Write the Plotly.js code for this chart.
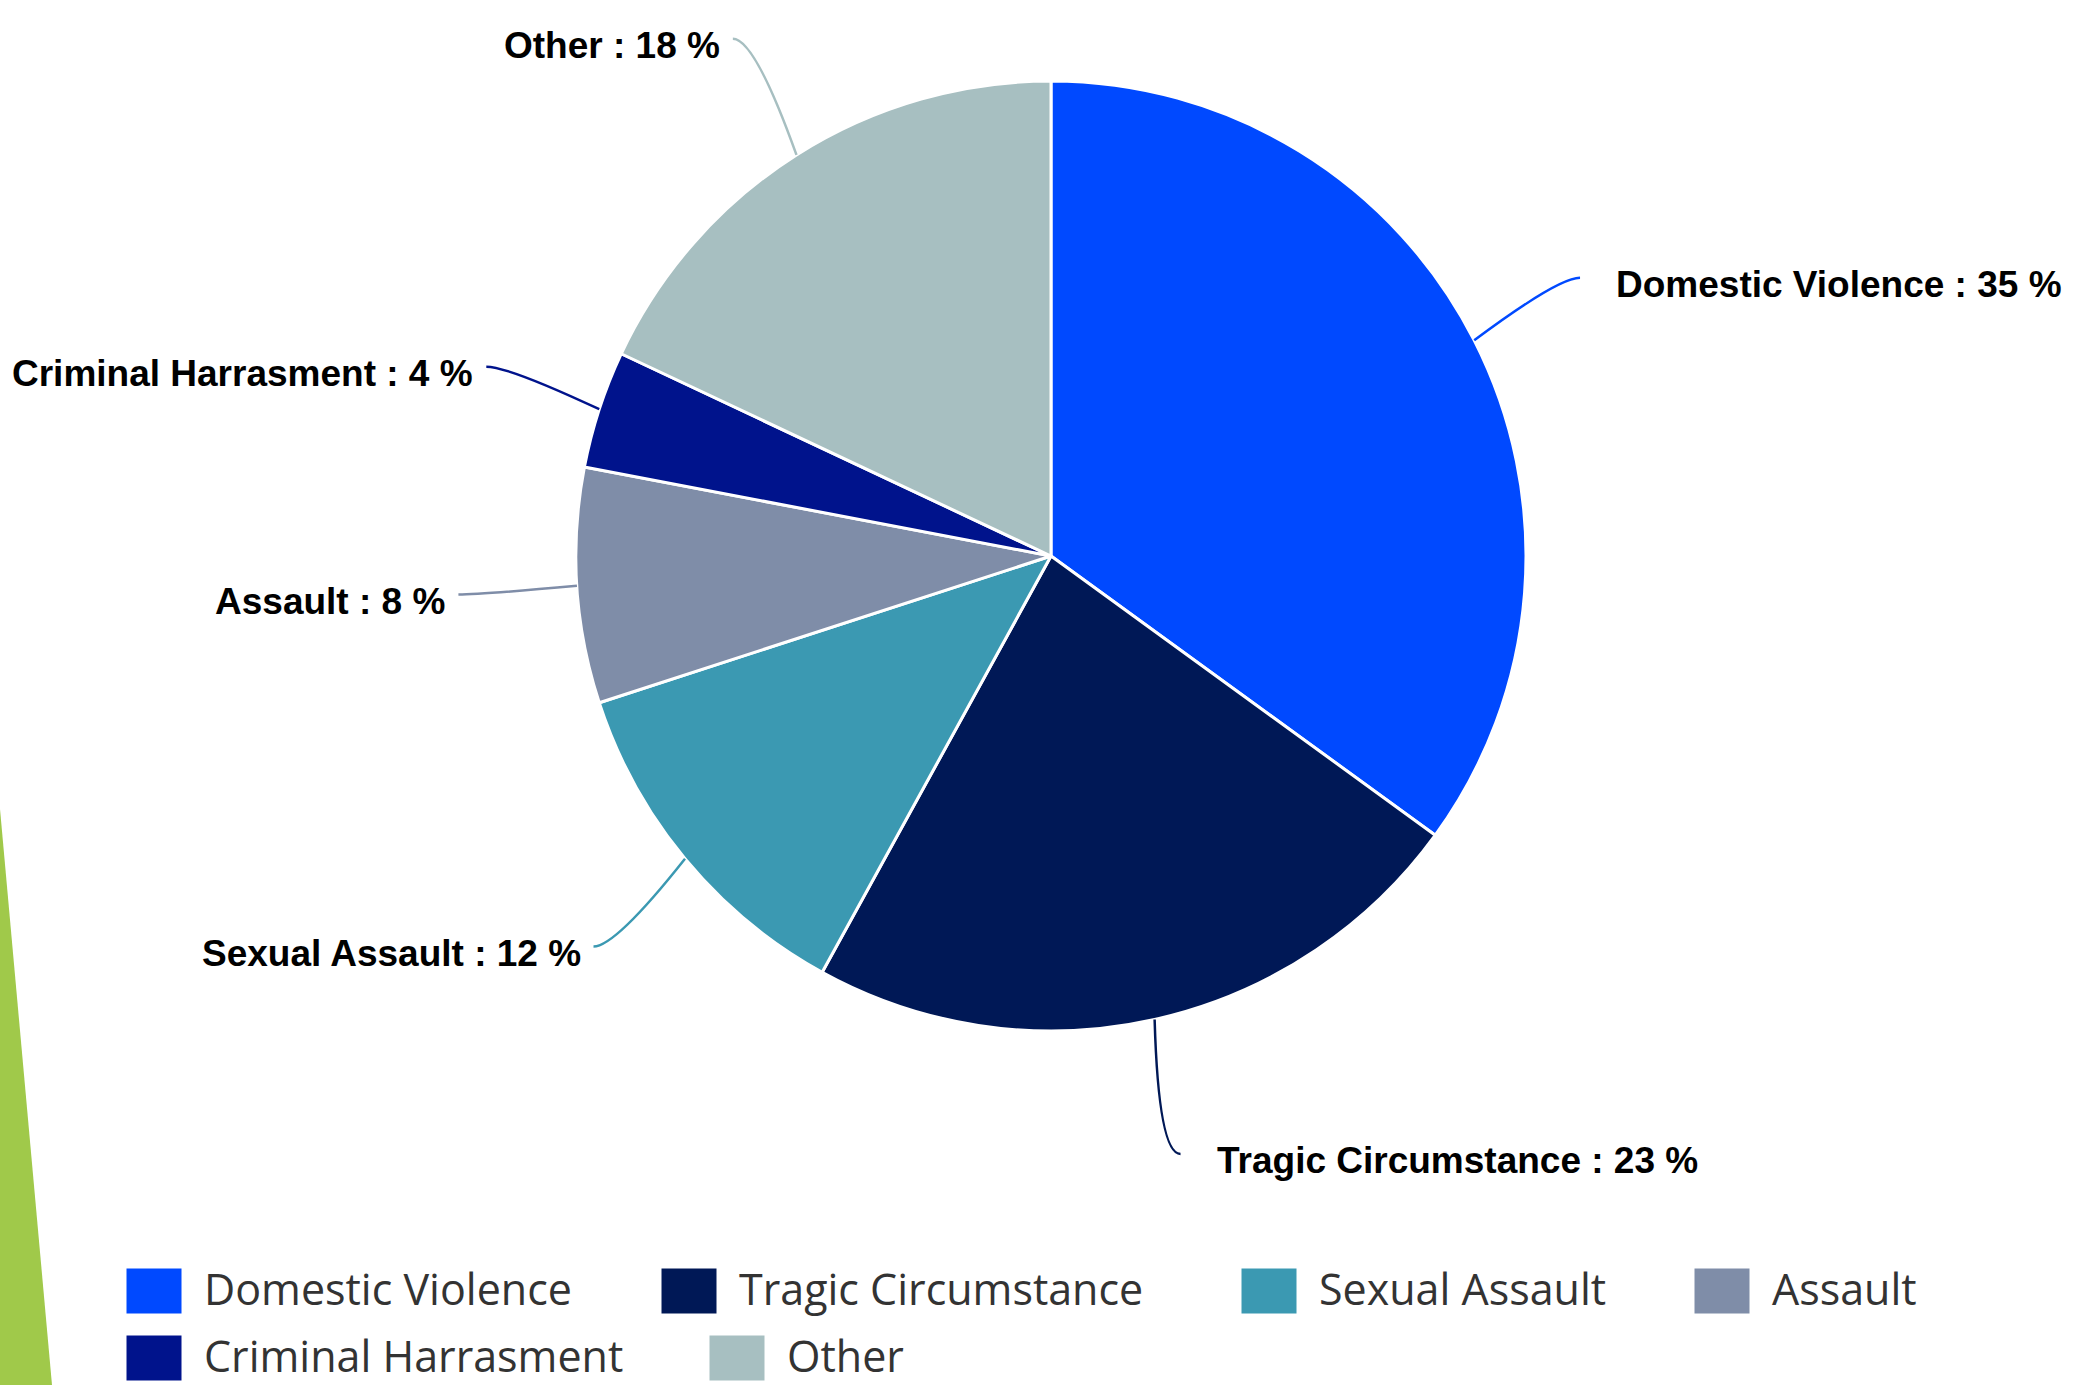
<!DOCTYPE html>
<html>
<head>
<meta charset="utf-8">
<script src="https://cdn.plot.ly/plotly-3.0.1.min.js"></script>
<style>html,body{margin:0;padding:0;background:#fff;}#chart{width:2086px;height:1385px;}</style>
</head>
<body>
<div id="chart"></div>
<script>
// ---- data ----
const categories = ['Domestic Violence', 'Tragic Circumstance', 'Sexual Assault', 'Assault', 'Criminal Harrasment', 'Other'];
const percentages = [35, 23, 12, 8, 4, 18];
const sliceColors = ['#0049FF', '#001856', '#3B99B2', '#7F8DA8', '#00138C', '#A7BFC1'];

// ---- geometry / style ----
const W = 2086, H = 1385;
const CX = 1051, CY = 556, R = 475;
const KX = 1.25, KY = 1.29;   // label distance factors (horizontal / vertical)
const X = px => px / W;
const Y = py => 1 - py / H;

const pie = {
  type: 'pie',
  values: percentages,
  labels: categories,
  sort: false,
  direction: 'clockwise',
  rotation: 0,
  textinfo: 'none',
  hoverinfo: 'label+percent',
  marker: { colors: sliceColors, line: { color: '#ffffff', width: 3 } },
  domain: { x: [(CX - R) / W, (CX + R) / W], y: [1 - (CY + R) / H, 1 - (CY - R) / H] },
  showlegend: false
};

const shapes = [];
const annotations = [];

// background green accent on the left
shapes.push({
  type: 'path', xref: 'paper', yref: 'paper', layer: 'below',
  path: `M ${X(0)},${Y(809)} L ${X(52)},${Y(1385)} L ${X(0)},${Y(1385)} Z`,
  fillcolor: '#A0C94A', line: { width: 0 }
});

// data labels with connectors, derived from the slice angles
const total = percentages.reduce((a, b) => a + b, 0);
let cum = 0;
percentages.forEach((v, i) => {
  const mid = (cum + v / 2) / total * 2 * Math.PI;
  cum += v;
  const s = Math.sin(mid), c = Math.cos(mid);
  const ex = CX + R * s, ey = CY - R * c;
  const tx = CX + KX * R * s, ty = CY - KY * R * c;
  const side = s >= 0 ? 1 : -1;
  const qx = tx - side * 22, qy = ty;
  shapes.push({
    type: 'path', xref: 'paper', yref: 'paper',
    path: `M ${X(ex)},${Y(ey)} Q ${X(qx)},${Y(qy)} ${X(tx)},${Y(ty)}`,
    line: { color: sliceColors[i], width: 2.5 }
  });
  annotations.push({
    xref: 'paper', yref: 'paper', showarrow: false,
    x: X(tx + side * (side > 0 ? 34 : 11)), y: Y(ty + 7),
    xanchor: side > 0 ? 'left' : 'right', yanchor: 'middle',
    text: `<b>${categories[i]} : ${v} %</b>`,
    font: { family: 'Liberation Sans, Arial, sans-serif', size: 37, color: '#000000' }
  });
});

// custom legend (large square swatches)
const legendSquareX = [126, 661, 1241, 1694, 126, 709];
const legendRowY = [1291, 1291, 1291, 1291, 1358, 1358];
categories.forEach((cat, i) => {
  const sx = legendSquareX[i], sy = legendRowY[i];
  shapes.push({
    type: 'rect', xref: 'paper', yref: 'paper',
    x0: X(sx), x1: X(sx + 56), y0: Y(sy - 23), y1: Y(sy + 23),
    fillcolor: sliceColors[i], line: { color: '#ffffff', width: 1 }
  });
  annotations.push({
    xref: 'paper', yref: 'paper', showarrow: false,
    x: X(sx + 76), y: Y(sy - 3), xanchor: 'left', yanchor: 'middle',
    text: cat,
    font: { family: 'Open Sans, sans-serif', size: 43, color: '#333333' }
  });
});

const layout = {
  width: W, height: H,
  margin: { l: 0, r: 0, t: 0, b: 0 },
  paper_bgcolor: '#ffffff',
  showlegend: false,
  shapes: shapes,
  annotations: annotations
};

Plotly.newPlot('chart', [pie], layout, { displayModeBar: false, staticPlot: true });
</script>
</body>
</html>
